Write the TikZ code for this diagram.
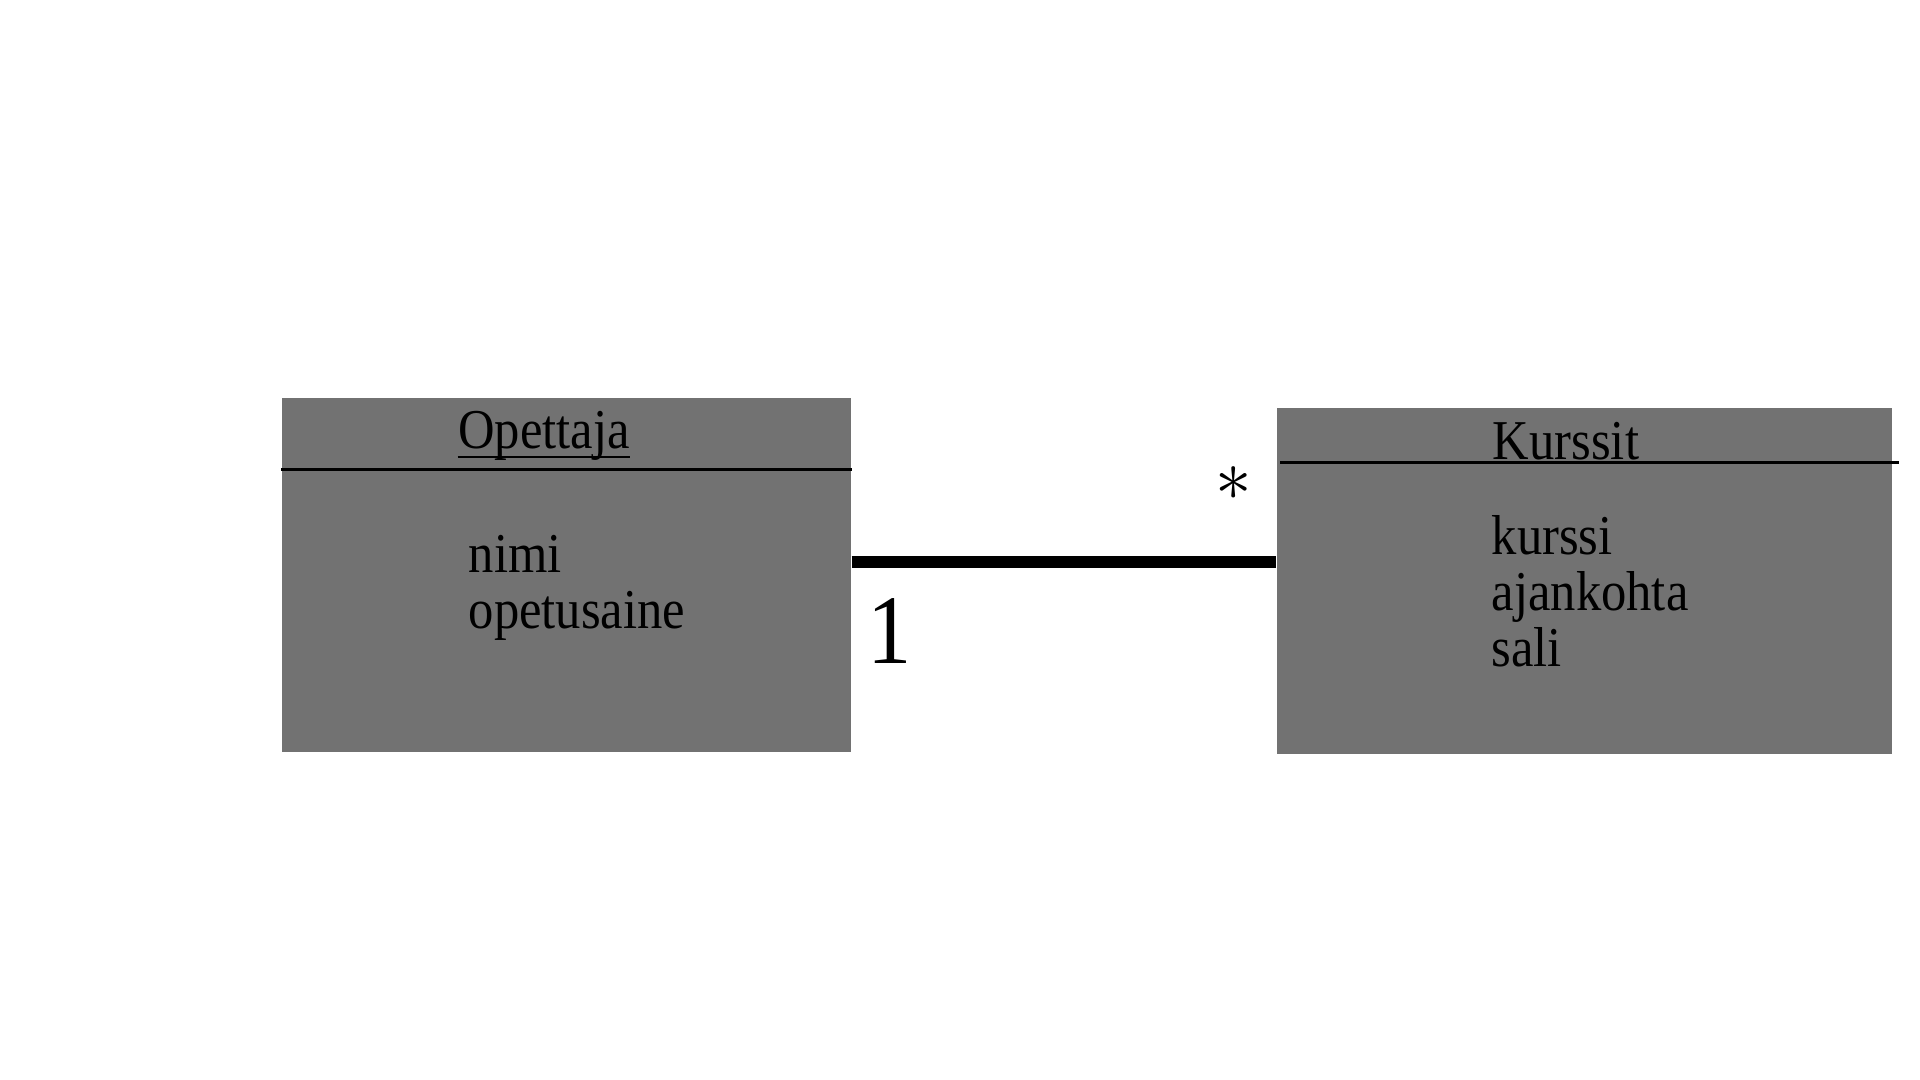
\documentclass[tikz,border=0pt]{standalone}
\usepackage{amsmath}
\usepackage{fontspec}
\setmainfont{Liberation Serif}[FakeStretch=0.9]
\usepackage{tikz}
\usetikzlibrary{arrows}

\definecolor{boxgray}{RGB}{114,114,114}

\begin{document}
\begin{tikzpicture}

\tikzset{classbox/.style = {shape=rectangle,fill=boxgray,inner sep=0pt}}
\tikzset{title/.style = {font=\fontsize{16}{18}\selectfont,inner sep=0pt,anchor=base}}
\tikzset{attrs/.style = {font=\fontsize{16}{15.9}\selectfont,align=left,anchor=north west,inner sep=0pt}}
\tikzset{assoc/.style = {line width=3.4pt}}

\useasboundingbox (0,0) rectangle (19.2,-10.8);

% classes
\node[classbox,minimum width=5.69cm,minimum height=3.54cm] (opettaja) at (5.665,-5.75) {};
\node[classbox,minimum width=6.15cm,minimum height=3.46cm] (kurssit) at (15.845,-5.81) {};

% titles
\node[title] (optitle) at (5.44,-4.48) {Opettaja};
\node[title] (kutitle) at (15.66,-4.59) {Kurssit};
\draw[line width=0.4pt] ([yshift=-0.09cm]optitle.base west) -- ([yshift=-0.09cm]optitle.base east);
\draw[line width=0.85pt] ([yshift=-0.72cm]opettaja.north west) -- ([yshift=-0.72cm]opettaja.north east);
\draw[line width=0.85pt] ([xshift=0.04cm,yshift=-0.55cm]kurssit.north west) -- ([xshift=0.06cm,yshift=-0.55cm]kurssit.north east);

% attributes
\node[attrs] (opattr) at (4.68,-5.35) {nimi\\opetusaine};
\node[attrs] (kuattr) at (14.91,-5.15) {kurssi\\ajankohta\\sali};

% association
\draw[assoc] ([yshift=1.3mm]opettaja.east) -- ([yshift=1.3mm]opettaja.east -| kurssit.west);

% multiplicities
\node[inner sep=0pt,font=\fontsize{28}{30}\selectfont] (one) at (8.90,-6.31) {1};
\node[inner sep=0pt,font=\fontsize{22}{24}\selectfont] (many) at (12.34,-4.84) {$\ast$};

\end{tikzpicture}
\end{document}
